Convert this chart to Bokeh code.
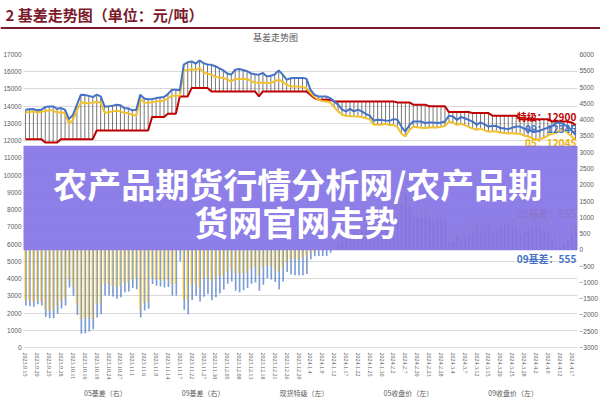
import numpy as np
from bokeh.plotting import figure
from bokeh.models import (ColumnDataSource, Range1d, LinearAxis, FixedTicker, Legend,
                          LegendItem, Label, BoxAnnotation)
from bokeh.layouts import column
from bokeh.transform import dodge
from bokeh.embed import file_html
from bokeh.resources import INLINE
from bokeh.core.properties import value

# ---------------- data ----------------
tick_labels = ["2023.9.15", "2023.9.20", "2023.9.25", "2023.9.28", "2023.10.11", "2023.10.16",
               "2023.10.19", "2023.10.24", "2023.10.27", "2023.11.1", "2023.11.6", "2023.11.9",
               "2023.11.14", "2023.11.17", "2023.11.22", "2023.11.27", "2023.11.30", "2023.12.05",
               "2023.12.08", "2023.12.13", "2023.12.18", "2023.12.21", "2023.12.26", "2023.12.29",
               "2024.1.4", "2024.1.9", "2024.1.12", "2024.1.17", "2024.1.22", "2024.1.25",
               "2024.1.30", "2024.2.2", "2024.2.7", "2024.2.20", "2024.2.23", "2024.2.28",
               "2024.3.4", "2024.3.7", "2024.3.12", "2024.3.15", "2024.3.20", "2024.3.25",
               "2024.3.28", "2024.4.2", "2024.4.9", "2024.4.12", "2024.4.17"]

spot_grade = [
    12090, 12090, 12090, 12090, 12090, 11890, 11890, 11890, 11890, 12090,
    12090, 12090, 12090, 12090, 12090, 12090, 12090, 12090, 12590, 12590,
    12590, 12590, 12590, 12590, 12590, 12590, 12590, 12590, 12590, 12590,
    12590, 12590, 13370, 13370, 13370, 13370, 13560, 13560, 13560, 14570,
    14570, 14570, 15060, 15060, 15060, 15060, 15060, 14860, 14860, 14860,
    14860, 14860, 14860, 14860, 14860, 14860, 14860, 14860, 14860, 14570,
    14860, 14860, 14860, 14860, 14860, 14860, 14860, 14860, 14860, 14860,
    14860, 14860, 14670, 14470, 14380, 14380, 14380, 14380, 14280, 14280,
    14280, 14280, 14280, 14280, 14280, 14280, 14280, 14280, 14280, 14280,
    14280, 14280, 14280, 14280, 14220, 14220, 14220, 14220, 14090, 14090,
    14090, 14090, 14000, 14000, 14000, 14000, 14000, 13660, 13660, 13660,
    13660, 13660, 13660, 13600, 13600, 13600, 13600, 13600, 13450, 13450,
    13450, 13450, 13450, 13450, 13450, 13250, 13250, 13250, 13250, 13250,
    13250, 13250, 13250, 13110, 13110, 13110, 13110, 13110, 13060, 12900]

close05 = [
    13640, 13660, 13700, 13640, 13680, 13720, 13760, 13760, 13620, 13660,
    13580, 12980, 13200, 13750, 14220, 14200, 14150, 14220, 14250, 14220,
    13640, 13640, 13700, 13740, 13700, 13600, 13600, 13500, 13450, 14420,
    14220, 14200, 14230, 14280, 14300, 14320, 14450, 14610, 14610, 14600,
    16080, 16100, 16150, 16100, 16220, 15950, 15880, 15830, 15700, 15680,
    15640, 15540, 15440, 15580, 15580, 15580, 15580, 15450, 15380, 15360,
    15380, 15350, 15350, 15450, 15540, 15400, 15250, 15150, 15150, 15150,
    15100, 15060, 14770, 14550, 14380, 14300, 14280, 14220, 13950, 13700,
    13500, 13450, 13410, 13410, 13400, 13370, 13300, 13250, 12920, 12920,
    12920, 12980, 12900, 12920, 12800, 12400, 12240, 12600, 12820, 12780,
    12750, 12730, 12760, 12780, 12760, 12800, 12850, 13110, 13050, 12920,
    12980, 12900, 12800, 12700, 12630, 12700, 12600, 12530, 12530, 12550,
    12470, 12440, 12420, 12450, 12400, 12400, 12300, 12240, 12150, 12050,
    12100, 12150, 12300, 12400, 12440, 12600, 12630, 12450, 12250, 12045]

close09 = [
    13800, 13820, 13840, 13760, 13800, 13950, 13990, 13990, 13850, 13890,
    13800, 13250, 13500, 14090, 14670, 14650, 14600, 14530, 14670, 14570,
    13990, 13990, 14020, 14090, 14050, 13890, 13870, 13760, 13800, 14670,
    14450, 14400, 14420, 14470, 14500, 14530, 14700, 14960, 14960, 14920,
    16410, 16550, 16600, 16470, 16650, 16500, 16420, 16400, 16320, 16200,
    16080, 15900, 15830, 16120, 16160, 16100, 16030, 15900, 15860, 15830,
    15930, 15730, 15770, 15850, 16080, 15830, 15540, 15620, 15640, 15640,
    15640, 15600, 14960, 14670, 14570, 14570, 14570, 14470, 14280, 14090,
    13800, 13700, 13840, 13700, 13800, 13700, 13550, 13450, 13170, 13210,
    13200, 13170, 13150, 13250, 13210, 12820, 12530, 12900, 13110, 13110,
    13110, 13020, 13060, 13060, 13020, 13050, 13110, 13450, 13410, 13210,
    13370, 13300, 13210, 13110, 12920, 13060, 12950, 12820, 12850, 12860,
    12730, 12700, 12670, 12750, 12820, 12820, 12700, 12630, 12560, 12530,
    12590, 12670, 12750, 12820, 13020, 13060, 12950, 12820, 12600, 12345]

basis05 = [
    -1550, -1570, -1610, -1550, -1590, -1830, -1870, -1870, -1730, -1570,
    -1490, -890, -1110, -1660, -2130, -2110, -2060, -2130, -1660, -1630,
    -1050, -1050, -1110, -1150, -1110, -1010, -1010, -910, -860, -1830,
    -1630, -1610, -860, -910, -930, -950, -890, -1050, -1050, -30,
    -1510, -1530, -1090, -1040, -1160, -890, -820, -970, -840, -820,
    -780, -680, -580, -720, -720, -720, -720, -590, -520, -790,
    -520, -490, -490, -590, -680, -540, -390, -290, -290, -290,
    -240, -200, -100, -80, 0, 80, 100, 160, 330, 580,
    780, 830, 870, 870, 880, 910, 980, 1030, 1360, 1360,
    1360, 1300, 1380, 1360, 1420, 1820, 1980, 1620, 1270, 1310,
    1340, 1360, 1240, 1220, 1240, 1200, 1150, 550, 610, 740,
    680, 760, 860, 900, 970, 900, 1000, 1070, 920, 900,
    980, 1010, 1030, 1000, 1050, 850, 950, 1010, 1100, 1200,
    1150, 1100, 950, 710, 670, 510, 480, 660, 810, 855]

basis09 = [
    -1710, -1730, -1750, -1670, -1710, -2060, -2100, -2100, -1960, -1800,
    -1710, -1160, -1410, -2000, -2580, -2560, -2510, -2440, -2080, -1980,
    -1400, -1400, -1430, -1500, -1460, -1300, -1280, -1170, -1210, -2080,
    -1860, -1810, -1050, -1100, -1130, -1160, -1140, -1400, -1400, -350,
    -1840, -1980, -1540, -1410, -1590, -1440, -1360, -1540, -1460, -1340,
    -1220, -1040, -970, -1260, -1300, -1240, -1170, -1040, -1000, -1260,
    -1070, -870, -910, -990, -1220, -970, -680, -760, -780, -780,
    -780, -740, -290, -200, -190, -190, -190, -90, 0, 190,
    480, 580, 440, 580, 480, 580, 730, 830, 1110, 1070,
    1080, 1110, 1130, 1030, 1010, 1400, 1690, 1320, 980, 980,
    980, 1070, 940, 940, 980, 950, 890, 210, 250, 450,
    290, 360, 450, 490, 680, 540, 650, 780, 600, 590,
    720, 750, 780, 700, 630, 430, 550, 620, 690, 720,
    660, 580, 500, 290, 90, 50, 160, 290, 460, 555]

left_ticks = list(range(0, 17001, 1000))
right_ticks = list(range(-3000, 6001, 500))
legend_labels = ["05基差（右）", "09基差（右）", "现货特级（左）", "05收盘价（左）", "09收盘价（左）"]

# ---------------- build ----------------
N = len(spot_grade)
idx = list(range(N))
lo = np.minimum.reduce([spot_grade, close05, close09])
hi = np.maximum.reduce([spot_grade, close05, close09])
src = ColumnDataSource(dict(x=idx, spot=spot_grade, c05=close05, c09=close09,
                            b05=basis05, b09=basis09, lo=lo, hi=hi))

CJK = "Noto Sans CJK SC"
DARKRED = "#7A1C2B"
GREY = "#595959"
RED, GOLD, BLUE = "#C00000", "#F2C12E", "#4472C4"


def bare(fig):
    fig.grid.visible = False
    fig.outline_line_color = None
    fig.background_fill_alpha = 0
    fig.border_fill_alpha = 0


def no_align(fig):
    if "frame_align" in fig.properties():
        fig.frame_align = False


# header (report caption + chart title)
header = figure(width=600, height=50, x_range=Range1d(0, 600), y_range=Range1d(50, 0),
                output_backend="svg", toolbar_location=None, min_border=0,
                x_axis_location=None, y_axis_location=None)
bare(header)
no_align(header)
header.text(x=[5], y=[14], text=["2 基差走势图（单位：元/吨）"], text_font=value(CJK),
            text_font_style="bold", text_font_size="15px", text_color=DARKRED,
            text_baseline="middle")
header.segment(x0=[0], y0=[27.5], x1=[600], y1=[27.5], line_color=DARKRED, line_width=2)
header.text(x=[275], y=[37], text=["基差走势图"], text_font=value(CJK),
            text_font_size="9px", text_color=GREY, text_align="center", text_baseline="middle")

# main chart
p = figure(width=600, height=332, x_range=Range1d(-0.5, N - 0.5), y_range=Range1d(0, 17000),
           output_backend="svg", toolbar_location=None,
           min_border_top=4, min_border_left=0, min_border_right=0, min_border_bottom=35)
p.outline_line_color = None
no_align(p)
p.extra_y_ranges = {"basis": Range1d(-3000, 6000)}

p.vbar(x=dodge("x", 0.12), top="b09", bottom=0, width=0.42, source=src,
       y_range_name="basis", fill_color=BLUE, fill_alpha=0.7, line_color=None)
p.vbar(x=dodge("x", -0.12), top="b05", bottom=0, width=0.42, source=src,
       y_range_name="basis", fill_color="#FFC000", fill_alpha=0.55, line_color=None)
p.segment(x0="x", y0="lo", x1="x", y1="hi", source=src, line_color="#3c3c3c", line_width=0.7)
p.line("x", "spot", source=src, line_color=RED, line_width=2)
p.line("x", "c05", source=src, line_color=GOLD, line_width=2)
p.line("x", "c09", source=src, line_color=BLUE, line_width=2)

p.yaxis.ticker = FixedTicker(ticks=left_ticks)
ax_r = LinearAxis(y_range_name="basis", ticker=FixedTicker(ticks=right_ticks))
p.add_layout(ax_r, "right")
for ax in (p.yaxis[0], ax_r):
    ax.axis_line_color = None
    ax.major_tick_line_color = None
    ax.minor_tick_line_color = None
    ax.major_tick_out = 0
    ax.major_tick_in = 0
    ax.minor_tick_out = 0
    ax.major_label_text_font_size = "6.5px"
    ax.major_label_text_color = GREY
    ax.major_label_standoff = 2
    ax.major_label_text_font = "Liberation Sans"

xa = p.xaxis[0]
xa.ticker = FixedTicker(ticks=list(range(0, N, 3)))
xa.major_label_overrides = {i * 3: t for i, t in enumerate(tick_labels)}
xa.major_label_orientation = -np.pi / 2
xa.major_label_text_font_size = "6px"
xa.major_label_text_color = GREY
xa.major_label_text_font = "Liberation Serif"
xa.axis_line_color = "#D9D9D9"
xa.major_tick_line_color = None
xa.minor_tick_line_color = None
xa.major_tick_out = 0
xa.major_tick_in = 0
xa.minor_tick_out = 0
xa.major_label_standoff = 5

p.xgrid.visible = False
p.ygrid.grid_line_color = "#D9D9D9"
p.ygrid.ticker = FixedTicker(ticks=left_ticks)

# end-point data labels (kept inside the plot area)
xr = N - 0.8
lab = dict(text_font=CJK, text_font_size="10px", text_font_style="bold",
           text_baseline="middle", text_align="right")
p.add_layout(Label(x=xr, y=13390, text="特级：12900", text_color=RED, **lab))
p.add_layout(Label(x=xr, y=12690, text="09：12345", text_color=BLUE, **lab))
p.add_layout(Label(x=xr, y=11870, text="05：12045", text_color="#F0B400", **lab))
p.add_layout(Label(x=xr, y=1120, y_range_name="basis", text="05基差：855",
                   text_color="#E0A800", **lab))
p.add_layout(Label(x=xr, y=-270, y_range_name="basis", text="09基差：555",
                   text_color=BLUE, **lab))

# overlay banner
p.add_layout(BoxAnnotation(left=-60, right=700, left_units="screen", right_units="screen",
                           top=11700, bottom=5646, fill_color="#8270E6", fill_alpha=0.9,
                           line_color=None))
ban = dict(text_color="white", text_font=CJK, text_font_size="34px", text_font_style="bold",
           text_align="center", text_baseline="middle")
p.add_layout(Label(x=68.8, y=9488, text="农产品期货行情分析网/农产品期", **ban))
p.add_layout(Label(x=68.4, y=7334, text="货网官网走势", **ban))

# legend strip
lg = figure(width=600, height=18, x_range=Range1d(0, 1), y_range=Range1d(0, 1),
            output_backend="svg", toolbar_location=None, min_border=0,
            x_axis_location=None, y_axis_location=None)
bare(lg)
no_align(lg)
g1 = lg.vbar(x=[], top=[], width=0.1, fill_color="#FFC000", line_color=None)
g2 = lg.vbar(x=[], top=[], width=0.1, fill_color=BLUE, line_color=None)
g3 = lg.line(x=[], y=[], line_color=RED, line_width=2)
g4 = lg.line(x=[], y=[], line_color=GOLD, line_width=2)
g5 = lg.line(x=[], y=[], line_color=BLUE, line_width=2)
legend = Legend(items=[LegendItem(label=t, renderers=[r]) for t, r in
                       zip(legend_labels, [g1, g2, g3, g4, g5])],
                orientation="horizontal", location=(66, 2),
                label_text_font=CJK, label_text_font_size="7px", label_text_color=GREY,
                glyph_width=16, glyph_height=5, spacing=37, padding=1, margin=0,
                label_standoff=2, label_height=8, border_line_color=None,
                background_fill_alpha=0)
lg.add_layout(legend)

layout = column(header, p, lg, spacing=0)
open("out.html", "w").write(file_html(layout, INLINE))
